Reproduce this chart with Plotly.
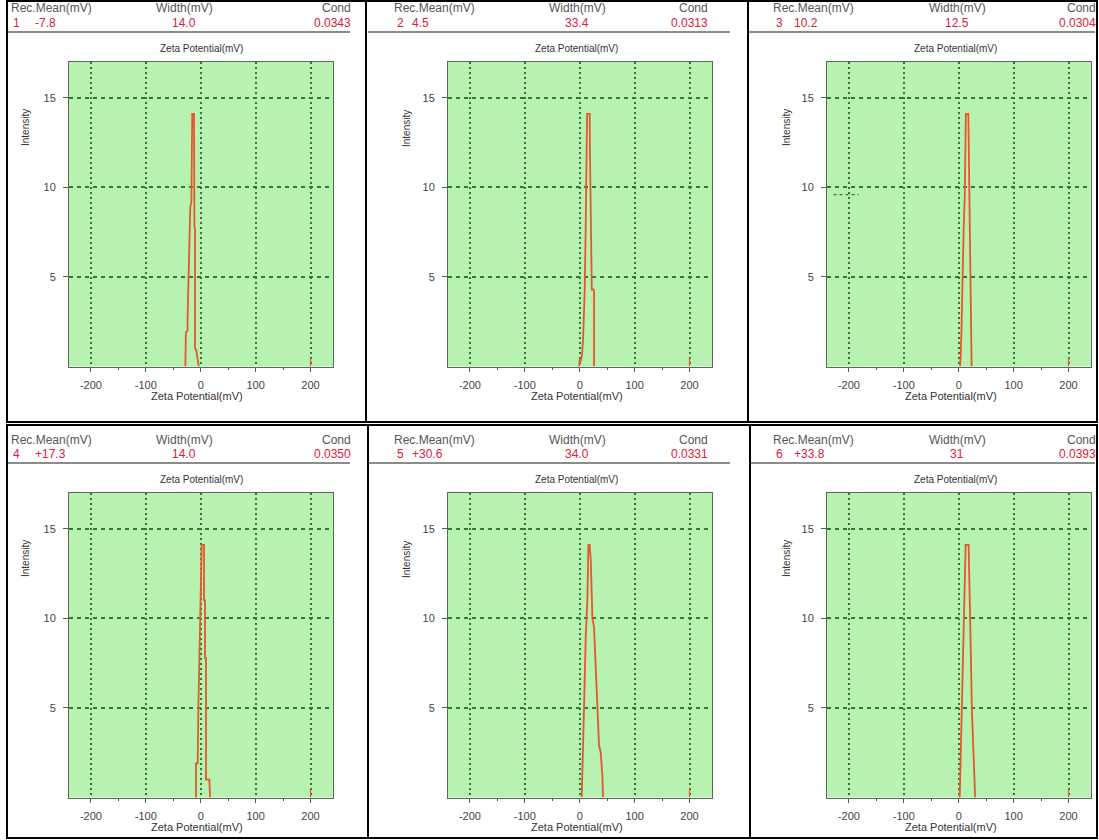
import plotly.graph_objects as go

# ---------------- data ----------------
records = ["1", "2", "3", "4", "5", "6"]
mean_mv = ["-7.8", "4.5", "10.2", "+17.3", "+30.6", "+33.8"]
width_mv = ["14.0", "33.4", "12.5", "14.0", "34.0", "31"]
cond = ["0.0343", "0.0313", "0.0304", "0.0350", "0.0331", "0.0393"]

x_ticks = [-200, -100, 0, 100, 200]
x_minor = [-150, -50, 50, 150]
y_ticks = [5, 10, 15]

zeta_1 = [-28, -27, -24, -24, -22, -21, -19, -17, -16, -15.5, -12.2, -12.2, -11.5, -10.4, -10.4, -8, -3.6]
inten_1 = [0, 1.9, 2.0, 2.6, 5.2, 6.5, 8.9, 9.2, 11.4, 14.1, 14.1, 11.6, 7.8, 7.7, 1.0, 0.9, 0]

zeta_2 = [-1.2, 0, 2, 4, 6.1, 9.1, 10.9, 13.4, 18.2, 18.5, 22.0, 25.5, 26.1, 26.1]
inten_2 = [0, 0.4, 0.3, 0.6, 1.5, 4.3, 7.8, 14.1, 14.1, 12.3, 4.3, 4.3, 4.2, 0]

zeta_3 = [2.4, 3.2, 5, 7, 9, 11, 13, 17.5, 18, 20, 21, 22.5, 23.5]
inten_3 = [0, 0.4, 2.0, 5.9, 7.7, 9.5, 14.1, 14.1, 12.9, 8.9, 7.0, 0.4, 0]

zeta_4 = [-8.6, -8.6, -5.5, -4.3, 1.8, 6.0, 6.0, 7.8, 7.8, 9.6, 9.6, 15.7, 17]
inten_4 = [0, 1.9, 1.9, 5.0, 14.1, 14.1, 11.0, 11.0, 7.8, 7.8, 1.0, 1.0, 0]

zeta_5 = [3.6, 4.9, 7.9, 10.9, 14.0, 15.8, 18.0, 20.1, 23.1, 26.1, 29.2, 32.2, 35.2, 38.3, 41.3, 42.5]
inten_5 = [0, 2.0, 5.1, 8.9, 11.1, 14.1, 14.1, 13.3, 10.0, 9.5, 7.0, 5.0, 2.9, 2.5, 1.2, 0]

zeta_6 = [1.8, 2.5, 3.6, 6.0, 7.8, 10.8, 12.6, 18.0, 19, 21.5, 23.9, 27.5, 29.9]
inten_6 = [0, 1.0, 2.0, 6.1, 8.9, 11.2, 14.1, 14.1, 11.7, 8.9, 5.0, 2.0, 0]

zeta_all = [zeta_1, zeta_2, zeta_3, zeta_4, zeta_5, zeta_6]
inten_all = [inten_1, inten_2, inten_3, inten_4, inten_5, inten_6]

marker_x = [200, 200]
marker_y = [0, 0.5]

# ---------------- layout helpers ----------------
W, H = 1099, 840


def fx(p):
    return p / W


def fy(p):
    return 1 - p / H


col_off = [0, 379, 758]
row_off = [0, 431]
base_x = (69, 333)
base_y = (62, 366.5)

GREEN_BG = "#B8F2B0"
GRID = "#2E7A34"
LINE = "#E4572E"
RED_TXT = "#D8213A"
HDR_TXT = "#555555"
FONT = "Arial, Liberation Sans, sans-serif"

fig = go.Figure()
layout = dict(
    width=W, height=H,
    margin=dict(l=0, r=0, t=0, b=0),
    paper_bgcolor="white",
    plot_bgcolor=GREEN_BG,
    showlegend=False,
    font=dict(family=FONT, size=11, color="#333333"),
)
annotations = []
shapes = []

hdr_cols = [
    dict(rec=10, wid=184, cond=352, num=12, mean=34, sep=(7, 350), ztop=201, zbot=197, inten=25),
    dict(rec=393, wid=577, cond=709, num=396, mean=411, sep=(368, 730), ztop=576, zbot=577, inten=406),
    dict(rec=772, wid=957, cond=1097, num=775, mean=793, sep=(749, 1095), ztop=955, zbot=951, inten=786),
]

for i in range(6):
    r, c = divmod(i, 3)
    ox, oy = col_off[c], row_off[r]
    n = "" if i == 0 else str(i + 1)
    xa, ya = "x" + n, "y" + n
    fig.add_trace(go.Scatter(x=zeta_all[i], y=inten_all[i], mode="lines",
                             line=dict(color=LINE, width=1.8),
                             xaxis=xa, yaxis=ya, hoverinfo="skip"))
    fig.add_trace(go.Scatter(x=marker_x, y=marker_y, mode="lines",
                             line=dict(color=LINE, width=1.2),
                             xaxis=xa, yaxis=ya, hoverinfo="skip"))
    layout["xaxis" + n] = dict(
        domain=[fx(base_x[0] + ox), fx(base_x[1] + ox)],
        anchor=ya, range=[-240, 241], tickvals=x_ticks,
        ticktext=[str(v) for v in x_ticks],
        showgrid=True, gridcolor=GRID, griddash="2px,3px", gridwidth=1.5,
        showline=True, linecolor="#5A6A5A", linewidth=1, mirror=True,
        ticks="outside", ticklen=4, tickcolor=GRID, ticklabelstandoff=4,
        minor=dict(tickvals=x_minor, ticks="outside", ticklen=2, tickcolor="#555555", showgrid=False),
        zeroline=False, tickfont=dict(size=11, color="#444444", family=FONT),
    )
    layout["yaxis" + n] = dict(
        domain=[fy(base_y[1] + oy), fy(base_y[0] + oy)],
        anchor=xa, range=[0, 17], tickvals=y_ticks,
        showgrid=True, gridcolor=GRID, griddash="4px,4px", gridwidth=1.5,
        showline=True, linecolor="#5A6A5A", linewidth=1, mirror=True,
        ticks="outside", ticklen=5, tickcolor=GRID, ticklabelstandoff=5,
        zeroline=False, tickfont=dict(size=11, color="#444444", family=FONT),
    )

    h = hdr_cols[c]
    ty = 8.5 + oy
    vy = 22.5 + oy
    common = dict(borderpad=0)
    annotations += [
        dict(x=fx(h["rec"]), y=fy(ty), text="Rec.Mean(mV)", xanchor="left", yanchor="middle",
             font=dict(size=12, color=HDR_TXT), **common),
        dict(x=fx(h["wid"]), y=fy(ty), text="Width(mV)", xanchor="center", yanchor="middle",
             font=dict(size=12, color=HDR_TXT), **common),
        dict(x=fx(h["cond"]), y=fy(ty), text="Cond", xanchor="right", yanchor="middle",
             font=dict(size=12, color=HDR_TXT), **common),
        dict(x=fx(h["num"]), y=fy(vy), text=records[i], xanchor="left", yanchor="middle",
             font=dict(size=12, color=RED_TXT), **common),
        dict(x=fx(h["mean"]), y=fy(vy), text=mean_mv[i], xanchor="left", yanchor="middle",
             font=dict(size=12, color=RED_TXT), **common),
        dict(x=fx(h["wid"]), y=fy(vy), text=width_mv[i], xanchor="center", yanchor="middle",
             font=dict(size=12, color=RED_TXT), **common),
        dict(x=fx(h["cond"]), y=fy(vy), text=cond[i], xanchor="right", yanchor="middle",
             font=dict(size=12, color=RED_TXT), **common),
        dict(x=fx(h["ztop"]), y=fy(48 + oy), text="Zeta Potential(mV)", xanchor="center", yanchor="middle",
             font=dict(size=10, color="#333333"), **common),
        dict(x=fx(h["zbot"]), y=fy(396 + oy), text="Zeta Potential(mV)", xanchor="center", yanchor="middle",
             font=dict(size=11, color="#333333"), **common),
        dict(x=fx(h["inten"]), y=fy(128 + oy), text="Intensity", xanchor="center", yanchor="middle",
             textangle=-90, font=dict(size=10, color="#333333"), **common),
    ]
    shapes.append(dict(type="line", xref="paper", yref="paper",
                       x0=fx(h["sep"][0]), x1=fx(h["sep"][1]), y0=fy(32 + oy), y1=fy(32 + oy),
                       line=dict(color="#666666", width=1.5)))

# small dashed artefact in panel 3
shapes.append(dict(type="line", xref="x3", yref="y3", x0=-228, x1=-182, y0=9.6, y1=9.6,
                   line=dict(color=GRID, width=1.2, dash="3px,3px")))

# panel borders
for (x0, x1) in [(7, 366), (366, 748), (748, 1097)]:
    shapes.append(dict(type="rect", xref="paper", yref="paper",
                       x0=fx(x0), x1=fx(x1), y0=fy(422), y1=fy(1),
                       line=dict(color="black", width=2)))
for (x0, x1) in [(7, 368), (368, 750), (750, 1097)]:
    shapes.append(dict(type="rect", xref="paper", yref="paper",
                       x0=fx(x0), x1=fx(x1), y0=fy(838), y1=fy(425),
                       line=dict(color="black", width=2)))

for a in annotations:
    a.update(xref="paper", yref="paper", showarrow=False)
layout["annotations"] = annotations
layout["shapes"] = shapes
fig.update_layout(**layout)
fig.write_html("out.html")
